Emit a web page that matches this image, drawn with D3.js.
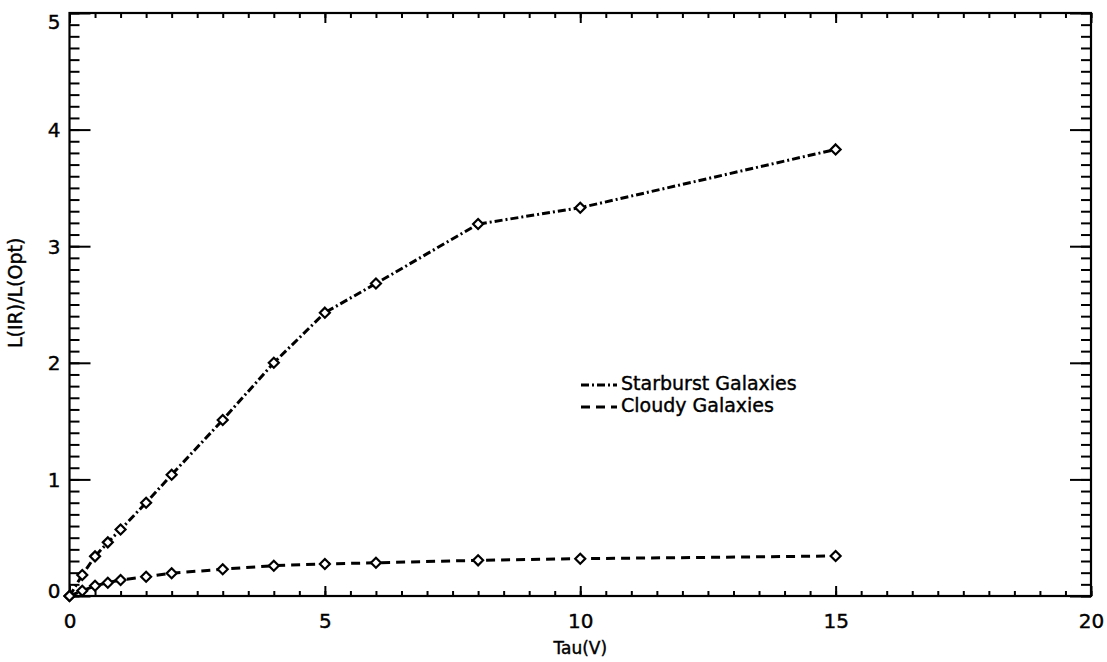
<!DOCTYPE html>
<html>
<head>
<meta charset="utf-8">
<script src="https://cdn.jsdelivr.net/npm/d3@7"></script>
<style>
  body { margin: 0; background: #fff; }
  svg { display: block; }
  text { font-family: "DejaVu Sans", sans-serif; fill: #000; stroke: #000; stroke-width: 0.4px; }
</style>
</head>
<body>
<div id="chart"></div>
<script>
// values
const tau = [0, 0.25, 0.5, 0.75, 1, 1.5, 2, 3, 4, 5, 6, 8, 10, 15];
const starburst = [0, 0.18, 0.34, 0.46, 0.57, 0.80, 1.04, 1.51, 2.00, 2.43, 2.68, 3.19, 3.33, 3.83];
const cloudy = [0, 0.045, 0.088, 0.114, 0.137, 0.165, 0.195, 0.23, 0.26, 0.275, 0.285, 0.306, 0.32, 0.343];
const xMajor = [0, 5, 10, 15, 20];
const yMajor = [0, 1, 2, 3, 4, 5];
const seriesNames = ['Starburst Galaxies', 'Cloudy Galaxies'];

const width = 1107, height = 662;
const margin = { top: 13, right: 16, bottom: 66, left: 69.5 };

const svg = d3.select('#chart').append('svg')
  .attr('width', width).attr('height', height);

const x = d3.scaleLinear().domain([0, 20]).range([margin.left, width - margin.right]);
const y = d3.scaleLinear().domain([0, 5]).range([height - margin.bottom, margin.top]);

const xMinor = d3.range(0, 20.01, 0.5);
const yMinor = d3.range(0, 5.001, 0.1);

const tickStyle = g => {
  g.select('.domain').remove();
  g.selectAll('.tick line').attr('stroke', '#000').attr('stroke-width', 2);
  g.selectAll('text').style('font-size', '20px');
};

// bottom
svg.append('g').attr('transform', `translate(0,${y(0)})`)
  .call(d3.axisBottom(x).tickValues(xMinor).tickSize(-5).tickFormat(''))
  .call(tickStyle);
svg.append('g').attr('transform', `translate(0,${y(0)})`)
  .call(d3.axisBottom(x).tickValues(xMajor).tickSize(-10).tickPadding(18).tickFormat(d3.format('d')))
  .call(tickStyle);
// top
svg.append('g').attr('transform', `translate(0,${y(5)})`)
  .call(d3.axisTop(x).tickValues(xMinor).tickSize(-5).tickFormat(''))
  .call(tickStyle);
svg.append('g').attr('transform', `translate(0,${y(5)})`)
  .call(d3.axisTop(x).tickValues(xMajor).tickSize(-10).tickFormat(''))
  .call(tickStyle);
// left
svg.append('g').attr('transform', `translate(${x(0)},0)`)
  .call(d3.axisLeft(y).tickValues(yMinor).tickSize(-10).tickFormat(''))
  .call(tickStyle);
const yLab = svg.append('g').attr('transform', `translate(${x(0)},0)`)
  .call(d3.axisLeft(y).tickValues(yMajor).tickSize(-21).tickPadding(9).tickFormat(d3.format('d')))
  .call(tickStyle);
yLab.selectAll('.tick text').attr('dy', d => d === 5 ? '0.75em' : d === 0 ? '0.05em' : '0.35em');
// right
svg.append('g').attr('transform', `translate(${x(20)},0)`)
  .call(d3.axisRight(y).tickValues(yMinor).tickSize(-10).tickFormat(''))
  .call(tickStyle);
svg.append('g').attr('transform', `translate(${x(20)},0)`)
  .call(d3.axisRight(y).tickValues(yMajor).tickSize(-21).tickFormat(''))
  .call(tickStyle);

// frame
svg.append('rect')
  .attr('x', x(0)).attr('y', y(5))
  .attr('width', x(20) - x(0)).attr('height', y(0) - y(5))
  .attr('fill', 'none').attr('stroke', '#000').attr('stroke-width', 2.2);

// axis titles
svg.append('text')
  .attr('x', x(10)).attr('y', 654)
  .attr('text-anchor', 'middle').style('font-size', '17px')
  .text('Tau(V)');
svg.append('text')
  .attr('transform', `translate(22,${y(2.6)}) rotate(-90)`)
  .attr('text-anchor', 'middle').style('font-size', '19px')
  .text('L(IR)/L(Opt)');

// series
const dashes = ['8,3,2,3', '9,6'];
const series = [starburst, cloudy];

const line = d3.line().x(d => x(d[0])).y(d => y(d[1]));
const diamond = (cx, cy, r) => `M${cx},${cy - r}L${cx + r},${cy}L${cx},${cy + r}L${cx - r},${cy}Z`;

series.forEach((vals, i) => {
  const pts = tau.map((t, j) => [t, vals[j]]);
  svg.append('path').datum(pts)
    .attr('d', line)
    .attr('fill', 'none').attr('stroke', '#000')
    .attr('stroke-width', 3).attr('stroke-dasharray', dashes[i]);
  svg.append('g').selectAll('path').data(pts).join('path')
    .attr('d', d => diamond(x(d[0]), y(d[1]), 5))
    .attr('fill', '#fff').attr('stroke', '#000').attr('stroke-width', 2.2);
});

// legend
const legend = svg.append('g');
seriesNames.forEach((name, i) => {
  const ly = 383 + i * 22;
  legend.append('line')
    .attr('x1', 581).attr('x2', 617).attr('y1', ly + 2).attr('y2', ly + 2)
    .attr('stroke', '#000').attr('stroke-width', 3)
    .attr('stroke-dasharray', dashes[i]);
  legend.append('text')
    .attr('x', 621).attr('y', ly).attr('dy', '0.35em')
    .style('font-size', '19px')
    .text(name);
});
</script>
</body>
</html>
